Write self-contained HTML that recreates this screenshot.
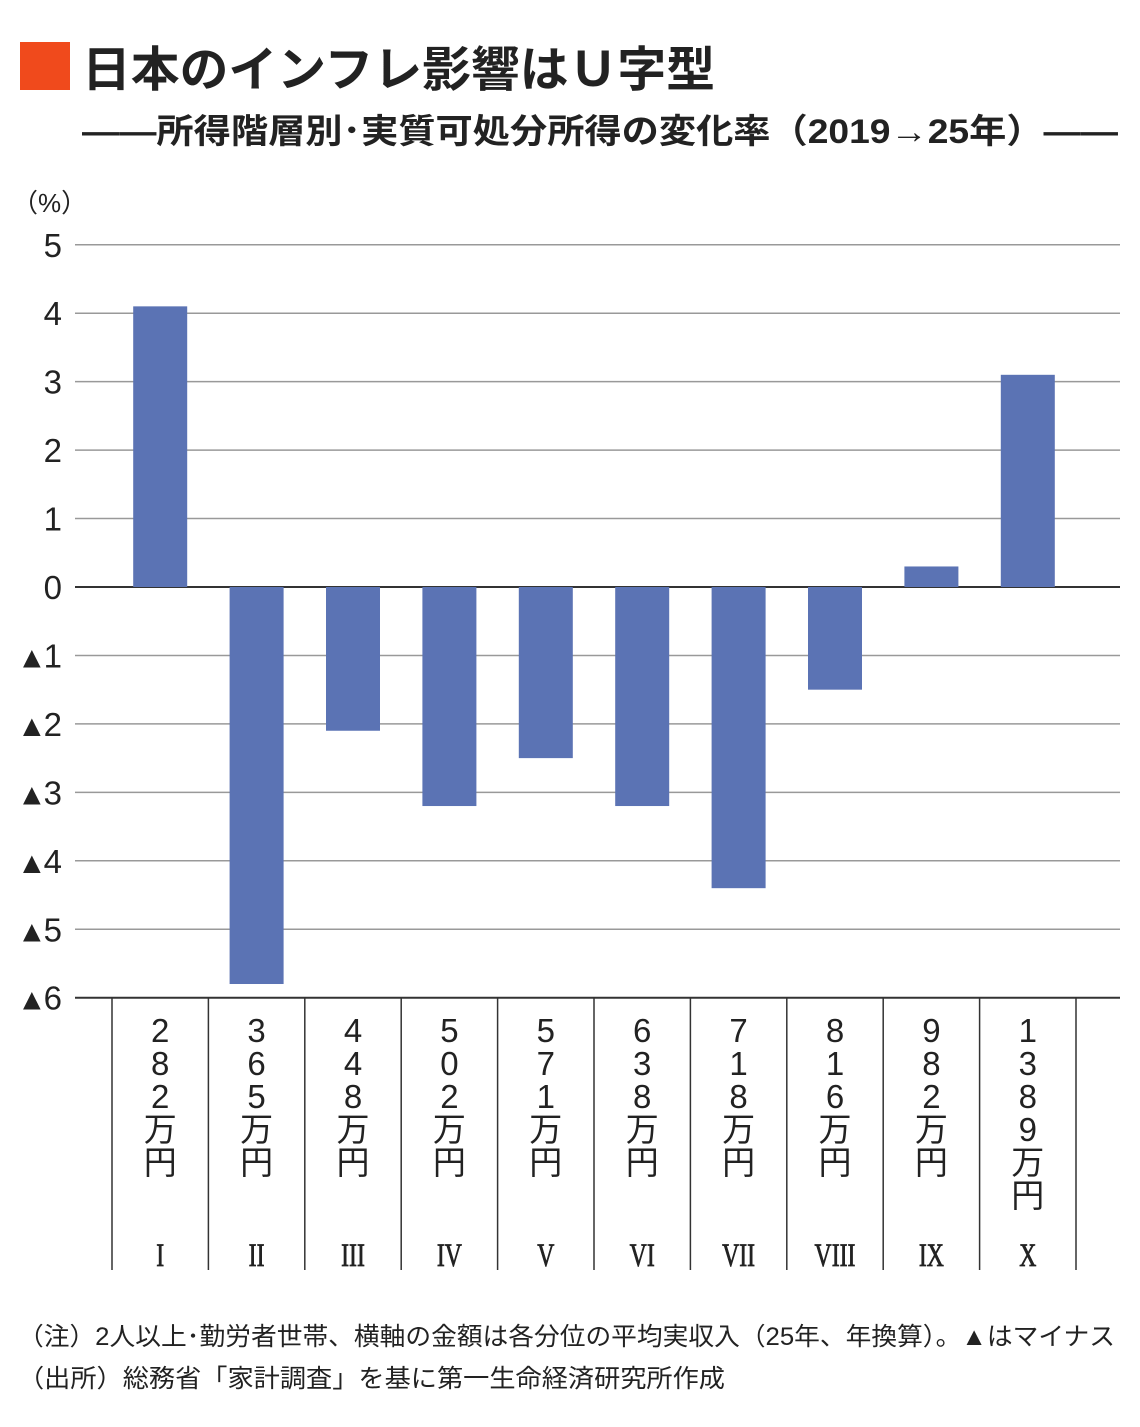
<!DOCTYPE html>
<html><head><meta charset="utf-8">
<style>
html,body{margin:0;padding:0;background:#fff;}
body{width:1140px;height:1427px;position:relative;overflow:hidden;font-family:"Liberation Sans","Noto Sans CJK JP",sans-serif;color:#222;}
.abs{position:absolute;white-space:nowrap;}
svg text{font-family:"Liberation Sans","Noto Sans CJK JP",sans-serif;}
</style></head><body>
<div class="abs" style="left:20px;top:42px;width:50px;height:48px;background:#f04a1c;"></div>
<svg class="abs" style="left:0;top:0" width="1140" height="1427">
<text x="82" y="86" font-size="48" font-weight="bold" fill="#222" textLength="633" lengthAdjust="spacingAndGlyphs">日本のインフレ影響はＵ字型</text>
<text x="82" y="143" font-size="34" font-weight="bold" fill="#222" textLength="1036" lengthAdjust="spacingAndGlyphs">――所得階層別･実質可処分所得の変化率（2019→25年）――</text>
<text x="18" y="1345" font-size="25" fill="#222" textLength="1097" lengthAdjust="spacingAndGlyphs">（注）2人以上･勤労者世帯、横軸の金額は各分位の平均実収入（25年、年換算）。▲はマイナス</text>
<text x="18" y="1387" font-size="25" fill="#222" textLength="707" lengthAdjust="spacingAndGlyphs">（出所）総務省「家計調査」を基に第一生命経済研究所作成</text>
<g id="grid"></g><g id="bars"></g><g id="labels"></g>
</svg>
<script>
const categories=["282万円","365万円","448万円","502万円","571万円","638万円","718万円","816万円","982万円","1389万円"];
const romans=["I","II","III","IV","V","VI","VII","VIII","IX","X"];
const values=[4.1,-5.8,-2.1,-3.2,-2.5,-3.2,-4.4,-1.5,0.3,3.1];
const ticks=[5,4,3,2,1,0,-1,-2,-3,-4,-5,-6];
const NS="http://www.w3.org/2000/svg";
const y=v=>587-v*68.45;
const x0=112,step=96.4;
const cx=i=>x0+step*(i+0.5);
function mk(tag,attrs,parent,txt){const e=document.createElementNS(NS,tag);for(const k in attrs)e.setAttribute(k,attrs[k]);if(txt!==undefined)e.textContent=txt;parent.appendChild(e);return e;}
const g=document.getElementById('grid'),b=document.getElementById('bars'),l=document.getElementById('labels');
let t0=mk('text',{x:12,y:212,'font-size':26,fill:'#222'},l,'（%）');


ticks.forEach(v=>{
 const ln=mk('line',{x1:75,x2:1120,y1:y(v),y2:y(v),stroke:v===0||v===-6?'#333':'#999','stroke-width':v===0||v===-6?2:1.5},g);
 
 
 const t=mk('text',{x:62,y:y(v)+12,'font-size':33,'text-anchor':'end',fill:'#222'},l);
 if(v<0){mk('tspan',{'font-size':30},t,'▲');mk('tspan',{dx:-3},t,String(-v));}
 else t.textContent=String(v);
 
 
});
for(let i=0;i<=categories.length;i++){
 const d=mk('line',{x1:x0+step*i,x2:x0+step*i,y1:y(-6),y2:1270,stroke:'#333','stroke-width':1.5},g);
 
 
}
values.forEach((v,i)=>{
 const r=mk('rect',{x:cx(i)-27,y:Math.min(y(v),y(0)),width:54,height:Math.abs(y(v)-y(0)),fill:'#5b73b4'},b);
 
 
 const chars=[...categories[i]];
 chars.forEach((c,j)=>{
  const t=mk('text',{x:cx(i),y:1042+j*33,'font-size':33,'text-anchor':'middle',fill:'#222'},l,c);
  
  
 });
 const rn=mk('text',{x:0,y:0,'font-size':33,'text-anchor':'middle',fill:'#222',stroke:'#222','stroke-width':0.8,transform:`translate(${cx(i)},1266) scale(0.72,1)`},l,romans[i]);
 rn.style.fontFamily='"Liberation Serif",serif';
 
 
});
</script>
</body></html>
